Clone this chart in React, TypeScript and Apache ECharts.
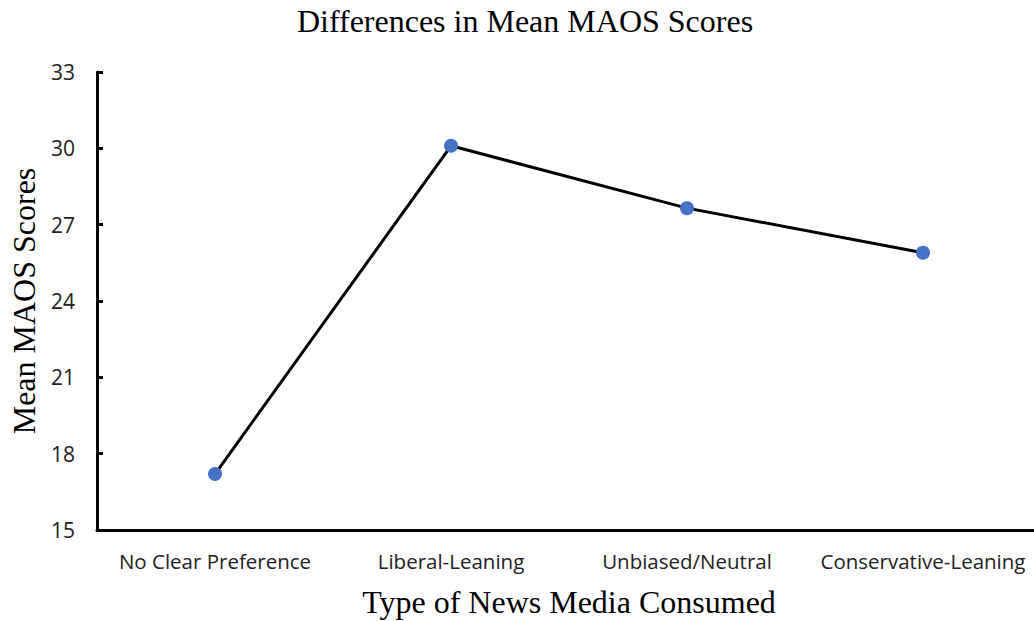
import React, { useEffect, useRef } from "react";
import * as echarts from "echarts";

const categories = ["No Clear Preference", "Liberal-Leaning", "Unbiased/Neutral", "Conservative-Leaning"];
const meanScores = [17.2, 30.1, 27.65, 25.9];
const yTicks = { min: 15, max: 33, interval: 3 };

export default function App() {
  const ref = useRef<HTMLDivElement>(null);
  useEffect(() => {
    document.body.style.margin = "0";
    const chart = echarts.init(ref.current!, null, { renderer: "svg" });
    chart.setOption({
      animation: false,
      backgroundColor: "#ffffff",
      title: {
        text: "Differences in Mean MAOS Scores",
        left: 520,
        textAlign: "center",
        top: 0,
        textStyle: { fontFamily: "Liberation Serif", fontSize: 32, fontWeight: "normal", color: "#000" },
      },
      grid: { left: 97, top: 72, bottom: 91, width: 944, containLabel: false, outerBoundsMode: "none" },
      xAxis: {
        type: "category",
        data: categories,
        boundaryGap: true,
        name: "Type of News Media Consumed",
        nameLocation: "middle",
        nameGap: 56,
        nameTextStyle: { fontFamily: "Liberation Serif", fontSize: 32, color: "#000" },
        axisLine: { lineStyle: { color: "#000", width: 3 } },
        axisTick: { show: false },
        axisLabel: { fontFamily: "Open Sans", fontSize: 20.5, color: "#222", margin: 20, interval: 0 },
        splitLine: { show: false },
      },
      yAxis: {
        type: "value",
        min: yTicks.min,
        max: yTicks.max,
        interval: yTicks.interval,
        name: "Mean MAOS Scores",
        nameLocation: "middle",
        nameGap: 53,
        nameRotate: 90,
        nameTextStyle: { fontFamily: "Liberation Serif", fontSize: 32, color: "#000" },
        axisLine: { show: true, lineStyle: { color: "#000", width: 3 } },
        axisTick: { show: true, inside: true, length: 6, lineStyle: { color: "#000", width: 3 } },
        axisLabel: { fontFamily: "Open Sans", fontSize: 21, color: "#222", margin: 22 },
        splitLine: { show: false },
      },
      series: [
        {
          type: "line",
          data: meanScores,
          lineStyle: { color: "#000", width: 3 },
          symbol: "circle",
          symbolSize: 14,
          itemStyle: { color: "#4472C4" },
          z: 3,
        },
      ],
    });
    return () => chart.dispose();
  }, []);
  return <div ref={ref} style={{ position: "fixed", left: 0, top: 0, width: 1034, height: 621 }} />;
}
